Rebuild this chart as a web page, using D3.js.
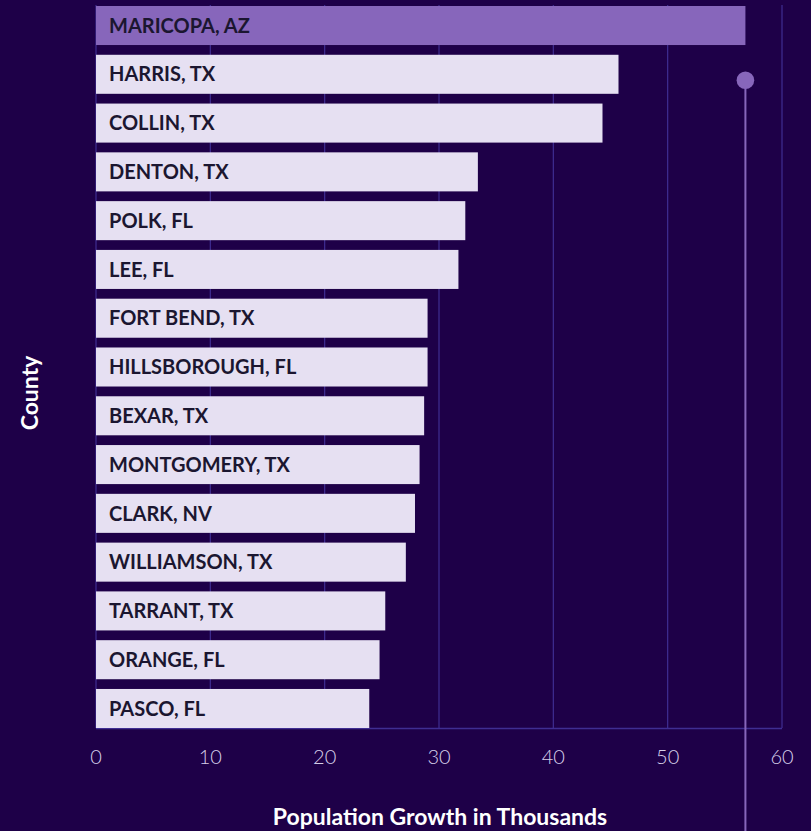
<!DOCTYPE html>
<html>
<head>
<meta charset="utf-8">
<script src="https://cdn.jsdelivr.net/npm/d3@7"></script>
<style>
  html, body { margin: 0; padding: 0; background: #1e0048; }
  svg { display: block; }
  .tick-label { font-family: Lato, sans-serif; font-weight: 300; fill: #d6cfe8; }
  .bar-label { font-family: Lato, sans-serif; font-weight: 700; fill: #1b1630; }
  .axis-title { font-family: Lato, sans-serif; font-weight: 700; fill: #ffffff; }
</style>
</head>
<body>
<div id="chart"></div>
<script>
const counties = [
  "MARICOPA, AZ", "HARRIS, TX", "COLLIN, TX", "DENTON, TX", "POLK, FL",
  "LEE, FL", "FORT BEND, TX", "HILLSBOROUGH, FL", "BEXAR, TX", "MONTGOMERY, TX",
  "CLARK, NV", "WILLIAMSON, TX", "TARRANT, TX", "ORANGE, FL", "PASCO, FL"
];
const growth = [56.8, 45.7, 44.3, 33.4, 32.3, 31.7, 29.0, 29.0, 28.7, 28.3, 27.9, 27.1, 25.3, 24.8, 23.9];
const xTicks = [0, 10, 20, 30, 40, 50, 60];
const highlight = "MARICOPA, AZ";

const width = 811;
const height = 831;
const margin = { left: 96, right: 29, top: 6, bottom: 103 };

const svg = d3.select("#chart")
  .append("svg")
  .attr("width", width)
  .attr("height", height);

svg.append("rect")
  .attr("width", width)
  .attr("height", height)
  .attr("fill", "#1e0048");

const x = d3.scaleLinear()
  .domain([0, 60])
  .range([margin.left, width - margin.right]);

const y = d3.scaleBand()
  .domain(counties)
  .range([margin.top, height - margin.bottom])
  .paddingInner(0.2)
  .paddingOuter(0);

const plotBottom = height - margin.bottom;

// gridlines
svg.append("g")
  .selectAll("line")
  .data(xTicks)
  .join("line")
  .attr("x1", d => x(d))
  .attr("x2", d => x(d))
  .attr("y1", 5)
  .attr("y2", plotBottom)
  .attr("stroke", "#3f2d92")
  .attr("stroke-width", 1.2);

// axis baseline
svg.append("line")
  .attr("x1", x(0))
  .attr("x2", x(60))
  .attr("y1", plotBottom + 0.5)
  .attr("y2", plotBottom + 0.5)
  .attr("stroke", "#3f2d92")
  .attr("stroke-width", 1.5);

const data = counties.map((c, i) => ({ county: c, value: growth[i] }));

// bars
svg.append("g")
  .selectAll("rect")
  .data(data)
  .join("rect")
  .attr("x", x(0))
  .attr("y", d => y(d.county))
  .attr("width", d => x(d.value) - x(0))
  .attr("height", y.bandwidth())
  .attr("fill", d => d.county === highlight ? "#8766bb" : "#e6e0f2");

// bar labels
svg.append("g")
  .selectAll("text")
  .data(data)
  .join("text")
  .attr("class", "bar-label")
  .attr("x", x(0) + 13)
  .attr("y", d => y(d.county) + y.bandwidth() / 2)
  .attr("dy", "0.36em")
  .style("font-size", "20px")
  .text(d => d.county);

// tick labels
svg.append("g")
  .selectAll("text")
  .data(xTicks)
  .join("text")
  .attr("class", "tick-label")
  .attr("x", d => x(d))
  .attr("y", 764)
  .attr("text-anchor", "middle")
  .style("font-size", "20px")
  .text(d => d);

// reference line for the top county
const leader = data[0];
const pinY = y(counties[1]) + y.bandwidth() / 2 + 6;
svg.append("line")
  .attr("x1", x(leader.value))
  .attr("x2", x(leader.value))
  .attr("y1", pinY)
  .attr("y2", height)
  .attr("stroke", "#8766bb")
  .attr("stroke-width", 2);

svg.append("circle")
  .attr("cx", x(leader.value))
  .attr("cy", pinY)
  .attr("r", 8.8)
  .attr("fill", "#8766bb");

// axis titles
svg.append("text")
  .attr("class", "axis-title")
  .attr("x", 440)
  .attr("y", 825)
  .attr("text-anchor", "middle")
  .style("font-size", "23px")
  .text("Population Growth in Thousands");

svg.append("text")
  .attr("class", "axis-title")
  .attr("transform", "translate(38,393) rotate(-90)")
  .attr("text-anchor", "middle")
  .style("font-size", "23px")
  .text("County");
</script>
</body>
</html>
